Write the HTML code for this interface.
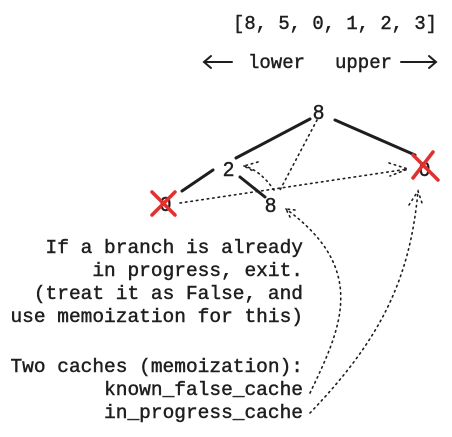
<!DOCTYPE html>
<html><head><meta charset="utf-8"><style>
html,body{margin:0;padding:0;background:#fff;}
svg{display:block;}
text{font-family:"Liberation Mono",monospace;font-size:19.5px;fill:#1e1e1e;stroke:#1e1e1e;stroke-width:0.45px;}
.n{font-family:"Liberation Sans",sans-serif;font-size:20px;}
</style></head><body>
<svg width="452" height="437" viewBox="0 0 452 437" xmlns="http://www.w3.org/2000/svg">
<text x="233" y="29" textLength="204" lengthAdjust="spacingAndGlyphs">[8, 5, 0, 1, 2, 3]</text>
<g stroke="#1e1e1e" stroke-width="2" fill="none" stroke-linecap="round">
<line x1="204" y1="62" x2="232" y2="62"/><polyline points="211,56 204,62 211,68"/>
<line x1="401" y1="62" x2="436" y2="62"/><polyline points="429,56 436,62 429,68"/>
</g>
<text x="248" y="68" textLength="57" lengthAdjust="spacingAndGlyphs">lower</text>
<text x="335" y="68" textLength="57" lengthAdjust="spacingAndGlyphs">upper</text>

<g stroke="#1e1e1e" stroke-width="3" stroke-linecap="round">
<line x1="310" y1="119" x2="236" y2="158"/>
<line x1="335" y1="120" x2="415" y2="155"/>
<line x1="213" y1="170" x2="182" y2="191"/>
<line x1="240" y1="177" x2="265" y2="197"/>
</g>
<text class="n" x="313" y="119">8</text>
<text class="n" x="223" y="176">2</text>
<text class="n" x="265" y="212">8</text>
<text class="n" x="160" y="211">0</text>
<text class="n" x="419" y="176">0</text>

<g stroke="#1e1e1e" stroke-width="1.6" fill="none" stroke-dasharray="1.5 4" stroke-linecap="round">
<line x1="317" y1="120" x2="280" y2="190"/>
<line x1="180" y1="203" x2="408" y2="169"/>
<polyline points="389,163 408,169 390,176"/>
<path d="M274 190 Q260 170 244 166"/>
<polyline points="258,162 244,166 255,172"/>
<path d="M310 393 C 340 330 370 270 286 209"/>
<polyline points="295,210 286,209 291,219"/>
<path d="M310 413 C 380 340 410 280 418 191"/>
<polyline points="409,205 418,191 423,206"/>
</g>

<g stroke="#e03131" stroke-width="3.5" stroke-linecap="round">
<line x1="152" y1="192" x2="175" y2="215"/><line x1="175" y1="192" x2="152" y2="215"/>
<line x1="413" y1="155" x2="438" y2="180"/><line x1="433" y1="152" x2="413" y2="178"/>
</g>

<g text-anchor="end">
<text x="303" y="253">If a branch is already</text>
<text x="303" y="276">in progress, exit.</text>
<text x="303" y="299">(treat it as False, and</text>
<text x="303" y="322">use memoization for this)</text>
<text x="303" y="372">Two caches (memoization):</text>
<text x="303" y="395">known_false_cache</text>
<text x="303" y="418">in_progress_cache</text>
</g>
</svg>
</body></html>
